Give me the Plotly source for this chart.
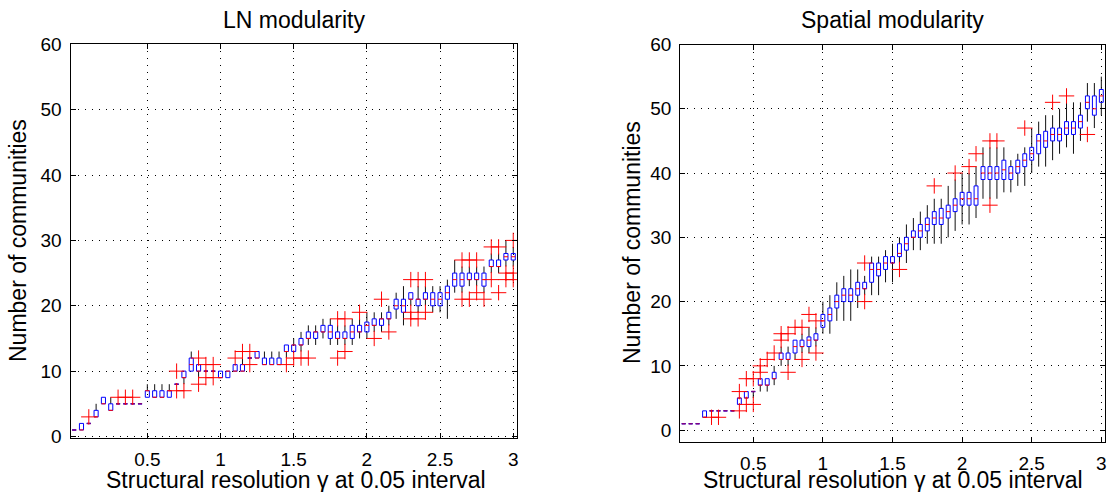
import plotly.graph_objects as go

# ---------------- data ----------------
gamma = [0.0, 0.05, 0.1, 0.15, 0.2, 0.25, 0.3, 0.35, 0.4, 0.45,
         0.5, 0.55, 0.6, 0.65, 0.7, 0.75, 0.8, 0.85, 0.9, 0.95,
         1.0, 1.05, 1.1, 1.15, 1.2, 1.25, 1.3, 1.35, 1.4, 1.45,
         1.5, 1.55, 1.6, 1.65, 1.7, 1.75, 1.8, 1.85, 1.9, 1.95,
         2.0, 2.05, 2.1, 2.15, 2.2, 2.25, 2.3, 2.35, 2.4, 2.45,
         2.5, 2.55, 2.6, 2.65, 2.7, 2.75, 2.8, 2.85, 2.9, 2.95, 3.0]

x_tick_vals = [0.5, 1, 1.5, 2, 2.5, 3]
x_tick_text = ["0.5", "1", "1.5", "2", "2.5", "3"]
y_tick_vals = [0, 10, 20, 30, 40, 50, 60]

# LN modularity
ln_q1 = [1, 1, 2, 3, 5, 4, 5, 5, 5, 5, 6, 6, 6, 6, 8, 9, 10, 10, 10, 10,
         9, 9, 10, 10, 12, 12, 11, 11, 11, 13, 13, 14, 15, 15, 16, 15, 15, 15, 15, 16,
         16, 17, 17, 18, 19.5, 19, 21, 20, 21, 20, 20, 21, 23, 23, 24, 24, 23, 26, 26, 27, 27]
ln_med = [1, 1, 2, 3, 5, 4, 5, 5, 5, 5, 7, 6, 6, 7, 8, 9, 11, 10, 10, 10,
          9, 10, 10, 10, 12, 12, 11, 11, 11, 13, 14, 14, 15, 16, 16, 16, 15, 15, 16, 16,
          17, 17, 18, 18, 20, 20, 21, 21, 21, 21, 21, 22, 24, 24, 24, 24, 24, 26, 26, 27.5, 27.5]
ln_q3 = [1, 2, 2, 4, 6, 5, 5, 5, 5, 5, 7, 7, 7, 7, 8, 10, 12, 11, 10, 10,
         10, 10, 11, 11, 12, 13, 12, 12, 12, 14, 14, 15, 16, 16, 17, 17, 16, 16, 17, 17,
         17.5, 18, 18, 19, 21, 21, 22, 21, 22, 22, 22, 23, 25, 25, 25, 25, 25, 27, 27, 28, 28]
ln_lo = [1, 1, 2, 3, 5, 4, 5, 5, 5, 5, 6, 6, 6, 6, 8, 8, 10, 9, 10, 10,
         9, 9, 10, 10, 12, 12, 11, 11, 11, 12, 13, 13, 14, 14, 15, 14, 14, 14, 14, 15,
         15, 16, 16, 17, 18, 17, 20, 19, 20, 19, 19, 18, 22, 22, 23, 23, 22, 25, 25, 26, 26]
ln_hi = [1, 2, 2, 5, 6, 6, 5, 5, 5, 5, 8, 8, 8, 8, 8, 10, 13, 11, 10, 10,
         10, 10, 11, 12, 12, 13, 13, 13, 13, 14, 15, 16, 17, 17, 18, 18, 17, 17, 18, 18,
         19, 19, 19, 20, 22, 23, 22, 23, 23, 23, 23, 24, 27, 26, 26, 26, 26, 28, 28, 30, 29]
ln_out = [[], [], [3], [], [], [], [6], [6], [6], [], [], [], [], [], [10, 7], [7], [], [12, 8], [11, 9], [11, 9],
          [], [], [12], [13], [13, 11], [], [], [], [], [11], [12], [12], [12], [], [], [], [18, 12], [18, 13], [], [19],
          [], [15], [21], [16], [], [], [24, 19, 18], [18, 24], [24, 19], [], [], [], [], [27, 21], [27, 21], [27, 22], [21], [29, 24], [29, 22], [25, 24], [30, 25, 24]]

# Spatial modularity
sp_q1 = [1, 1, 1, 2, 3, 3, 3, 3, 4, 5, 6, 7, 7, 8, 11, 11, 12, 13, 13, 14,
         16, 17, 19, 20, 20, 21, 22, 23, 24, 25, 26, 27, 28, 30, 30, 31, 32, 32, 33, 34,
         35, 35, 35, 39, 39, 39, 39, 39, 40, 41, 42, 43, 44, 45, 45, 46, 46, 47, 50, 49, 51]
sp_med = [1, 1, 1, 2, 3, 3, 3, 3, 5, 5, 6, 7, 7, 8, 11, 11, 13, 13, 14, 14,
          17, 18, 20, 21, 21, 22, 22, 25, 25, 26, 26, 27.5, 29, 30, 31, 32, 33, 33, 34, 35,
          36, 36, 36, 40, 40, 40, 40.5, 40, 41, 42, 43, 45, 45, 46, 46, 47, 47, 48, 51, 50, 52]
sp_q3 = [1, 1, 1, 3, 3, 3, 3, 3, 5, 6, 6, 8, 8, 9, 12, 12, 14, 14, 14.5, 15,
         18, 19, 21, 22, 22, 23, 23, 26, 26, 27, 27, 29, 30, 31, 32, 33, 34, 34.5, 35, 36,
         37, 37, 38, 41, 41, 41, 42, 41, 42, 43, 44, 46, 46.5, 47, 47, 48, 48, 49, 52, 52, 53]
sp_lo = [1, 1, 1, 2, 3, 3, 3, 3, 4, 5, 5, 6, 6, 7, 10, 10, 11, 12, 12, 13,
         15, 15, 17, 17, 17, 19, 21, 21, 21, 23, 23, 26, 26, 28, 28, 29, 29, 29, 30, 31,
         32, 32, 33, 36, 36, 36, 37, 37, 38, 38, 40, 41, 41, 42, 43, 44, 43, 45, 48, 47, 49]
sp_hi = [1, 1, 1, 3, 3, 3, 3, 3, 5, 6, 6, 8, 8, 10, 13, 13, 14, 15, 16, 16,
         20, 21, 23, 24, 25, 25, 24, 27, 27, 28, 29, 30, 32, 33, 34, 35, 36, 36, 38, 39,
         40, 40, 41, 44, 44, 44, 44, 42, 43, 44, 47, 48, 49, 49, 50, 51, 51, 51, 54, 54, 55]
sp_out = [[], [], [], [], [2], [2], [], [], [3, 6], [8, 4], [4, 8], [10, 9], [11], [12], [15, 14], [15, 9], [16], [16, 11], [18], [17, 12],
          [], [], [], [], [], [], [26, 20], [], [], [], [], [25], [], [], [], [], [38], [], [], [40],
          [], [41], [43], [], [45, 35], [45], [], [], [], [47], [], [], [], [51], [], [52], [], [], [46], [], []]

# ---------------- drawing ----------------
FONT = "Liberation Sans, Arial, Helvetica, sans-serif"
HALF_W = 0.014

fig = go.Figure()


def add_panel(xa, ya, q1, med, q3, lo, hi, out):
    wx, wy = [], []
    bx, by = [], []
    mx, my = [], []
    dx, dy = [], []
    ox, oy = [], []
    for g, a, m, b, l, h, o in zip(gamma, q1, med, q3, lo, hi, out):
        if l < a:
            wx += [g, g, None]
            wy += [l, a, None]
        if h > b:
            wx += [g, g, None]
            wy += [b, h, None]
        bx += [g - HALF_W, g + HALF_W, g + HALF_W, g - HALF_W, g - HALF_W, None]
        by += [a, a, b, b, a, None]
        if b > a:
            mx += [g - HALF_W, g + HALF_W, None]
            my += [m, m, None]
        else:
            dx += [g - HALF_W, g + HALF_W, None]
            dy += [m, m, None]
        for v in o:
            ox.append(g)
            oy.append(v)
    fig.add_trace(go.Scatter(x=wx, y=wy, mode="lines", xaxis=xa, yaxis=ya,
                             line=dict(color="#111111", width=1),
                             hoverinfo="skip", showlegend=False))
    fig.add_trace(go.Scatter(x=bx, y=by, mode="lines", xaxis=xa, yaxis=ya,
                             line=dict(color="#0000ff", width=1),
                             hoverinfo="skip", showlegend=False))
    fig.add_trace(go.Scatter(x=mx, y=my, mode="lines", xaxis=xa, yaxis=ya,
                             line=dict(color="#ff0000", width=1),
                             hoverinfo="skip", showlegend=False))
    fig.add_trace(go.Scatter(x=dx, y=dy, mode="lines", xaxis=xa, yaxis=ya,
                             line=dict(color="#80007f", width=1.5),
                             hoverinfo="skip", showlegend=False))
    fig.add_trace(go.Scatter(x=ox, y=oy, mode="markers", xaxis=xa, yaxis=ya,
                             marker=dict(symbol="cross-thin", size=11, color="#ff0000",
                                         line=dict(color="#ff0000", width=1)),
                             hoverinfo="skip", showlegend=False))


add_panel("x", "y", ln_q1, ln_med, ln_q3, ln_lo, ln_hi, ln_out)
add_panel("x2", "y2", sp_q1, sp_med, sp_q3, sp_lo, sp_hi, sp_out)

W, H = 1114, 492

common_x = dict(range=[-0.025, 3.025], tickvals=x_tick_vals, ticktext=x_tick_text,
                showgrid=True, gridcolor="#000000", griddash="1px,6px", gridwidth=1,
                showline=True, linecolor="#000000", linewidth=1, mirror="ticks",
                ticks="inside", ticklen=5, tickcolor="#000000", zeroline=False,
                tickfont=dict(family=FONT, size=19, color="#000000"),
                ticklabelstandoff=4, automargin=False)
common_y = dict(tickvals=y_tick_vals,
                showgrid=True, gridcolor="#000000", griddash="1px,6px", gridwidth=1,
                showline=True, linecolor="#000000", linewidth=1, mirror="ticks",
                ticks="inside", ticklen=5, tickcolor="#000000", zeroline=False,
                tickfont=dict(family=FONT, size=19, color="#000000"),
                ticklabelstandoff=4, automargin=False)

fig.update_layout(
    template="none",
    width=W, height=H,
    margin=dict(l=0, r=0, t=0, b=0, pad=0),
    paper_bgcolor="white", plot_bgcolor="white",
    font=dict(family=FONT, color="#000000"),
    xaxis=dict(common_x, domain=[70.5 / W, 516.9 / W], anchor="y"),
    yaxis=dict(common_y, domain=[(H - 437.8) / H, (H - 44.3) / H], range=[-0.2, 60], anchor="x"),
    xaxis2=dict(common_x, domain=[680.2 / W, 1104.8 / W], anchor="y2"),
    yaxis2=dict(common_y, domain=[(H - 441.7) / H, (H - 44.5) / H], range=[-1.8, 60], anchor="x2"),
)

ann_font = dict(family=FONT, size=23, color="#000000")
fig.add_annotation(text="LN modularity", x=293.7 / W, y=1 - 19.5 / H, xref="paper", yref="paper",
                   showarrow=False, font=ann_font, xanchor="center", yanchor="middle")
fig.add_annotation(text="Spatial modularity", x=892.5 / W, y=1 - 19.5 / H, xref="paper", yref="paper",
                   showarrow=False, font=ann_font, xanchor="center", yanchor="middle")
xt = "Structural resolution \u03b3 at 0.05 interval"
fig.add_annotation(text=xt, x=295.8 / W, y=1 - 480 / H, xref="paper", yref="paper",
                   showarrow=False, font=ann_font, xanchor="center", yanchor="middle")
fig.add_annotation(text=xt, x=893 / W, y=1 - 480 / H, xref="paper", yref="paper",
                   showarrow=False, font=ann_font, xanchor="center", yanchor="middle")
fig.add_annotation(text="Number of communities", x=18 / W, y=1 - 241 / H, xref="paper", yref="paper",
                   showarrow=False, font=ann_font, textangle=-90, xanchor="center", yanchor="middle")
fig.add_annotation(text="Number of communities", x=632 / W, y=1 - 243 / H, xref="paper", yref="paper",
                   showarrow=False, font=ann_font, textangle=-90, xanchor="center", yanchor="middle")

fig.write_html("out.html")
